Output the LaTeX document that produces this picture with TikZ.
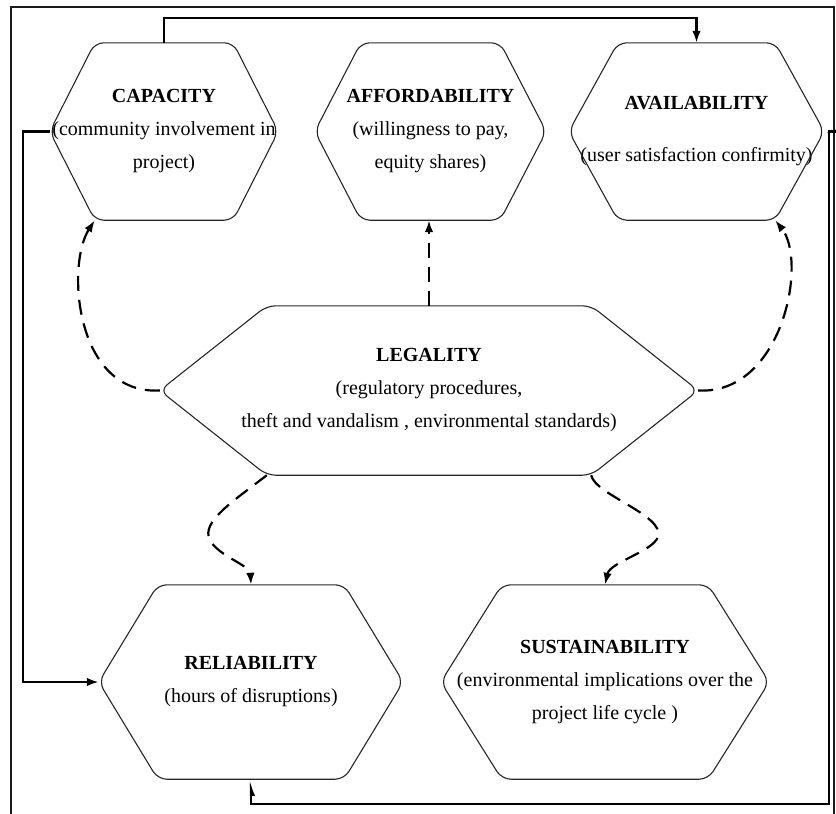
\documentclass[tikz,border=0pt]{standalone}
\usepackage{fontspec}
\setmainfont{Liberation Serif}
\usetikzlibrary{calc,arrows.meta}
\newcommand{\hexoutline}[2]{%
  \draw[hexline] (#1.west) -- ($(#1.north west)+(#2,0)$) -- ($(#1.north east)+(-#2,0)$) -- (#1.east)
    -- ($(#1.south east)+(-#2,0)$) -- ($(#1.south west)+(#2,0)$) -- cycle;}
\begin{document}
\begin{tikzpicture}[x=1pt,y=-1pt,
  hexline/.style={draw=black!85, line width=1.1pt, rounded corners=9pt},
  hexnode/.style={inner sep=0pt, align=center, font=\fontsize{20}{33}\selectfont},
  tiphead/.style={-{Latex[length=12pt,width=8.5pt]}},
  solidlink/.style={line width=2.2pt, tiphead},
  dashlink/.style={line width=2.2pt, dash pattern=on 15pt off 9pt, tiphead},
  harplink/.style={line width=2.2pt, {Latex[harpoon,swap,length=12pt,width=8.5pt]}-{Latex[harpoon,swap,length=12pt,width=8.5pt]}},
]
\useasboundingbox (0,0) rectangle (836,814);
% frame
\draw[line width=2.4pt, black!90] (11,840) -- (11,7) -- (834,7) -- (834,840);

% nodes
\node[hexnode, minimum width=228pt, minimum height=177pt] (cap) at (164,131.5)
  {\textbf{CAPACITY}\\(community involvement in\\project)};
\node[hexnode, minimum width=231pt, minimum height=177pt] (aff) at (430.5,131.5)
  {\textbf{AFFORDABILITY}\\(willingness to pay,\\equity shares)};
\node[hexnode, minimum width=255pt, minimum height=177pt] (ava) at (696.5,131.5)
  {\textbf{AVAILABILITY}\\[19pt](user satisfaction confirmity)};
\node[hexnode, minimum width=538pt, minimum height=169pt] (leg) at (429,390.5)
  {\textbf{LEGALITY}\\(regulatory procedures,\\theft and vandalism , environmental standards)};
\node[hexnode, minimum width=304pt, minimum height=194pt] (rel) at (251,682)
  {\textbf{RELIABILITY}\\(hours of disruptions)};
\node[hexnode, minimum width=328pt, minimum height=194pt] (sus) at (605,682)
  {\textbf{SUSTAINABILITY}\\(environmental implications over the\\project life cycle )};

\hexoutline{cap}{45}
\hexoutline{aff}{46}
\hexoutline{ava}{49}
\hexoutline{leg}{107}
\hexoutline{rel}{59}
\hexoutline{sus}{61}

% corner coordinates
\coordinate (capBL) at ($(cap.south west)+(45,0)$);
\coordinate (avaBR) at ($(ava.south east)+(-49,0)$);
\coordinate (legBL) at ($(leg.south west)+(107,0)$);
\coordinate (legBR) at ($(leg.south east)+(-107,0)$);

% solid connectors
\draw[solidlink] (cap.north) -- ++(0,-25) -| (ava.north);
\draw[solidlink] (cap.west) -- ++(-27,0) |- (rel.west);
\draw[harplink] (ava.east) -- ++(5,0) |- ($(rel.south)+(0,25)$) -- (rel.south);

% dashed connectors
\draw[dashlink] (leg.north) -- (leg.north |- aff.south);
\draw[dashlink] (leg.west) .. controls (75,395) and (66,265) .. (capBL);
\draw[dashlink] (leg.east) .. controls (782,395) and (808,262) .. (avaBR);
\draw[dashlink] (legBL) .. controls (235,500) and (200,522) .. (210,540)
  .. controls (218,556) and (250,565) .. (rel.north);
\draw[dashlink] (legBR) .. controls (595,495) and (665,515) .. (658,537)
  .. controls (652,552) and (610,562) .. (sus.north);
\end{tikzpicture}
\end{document}
